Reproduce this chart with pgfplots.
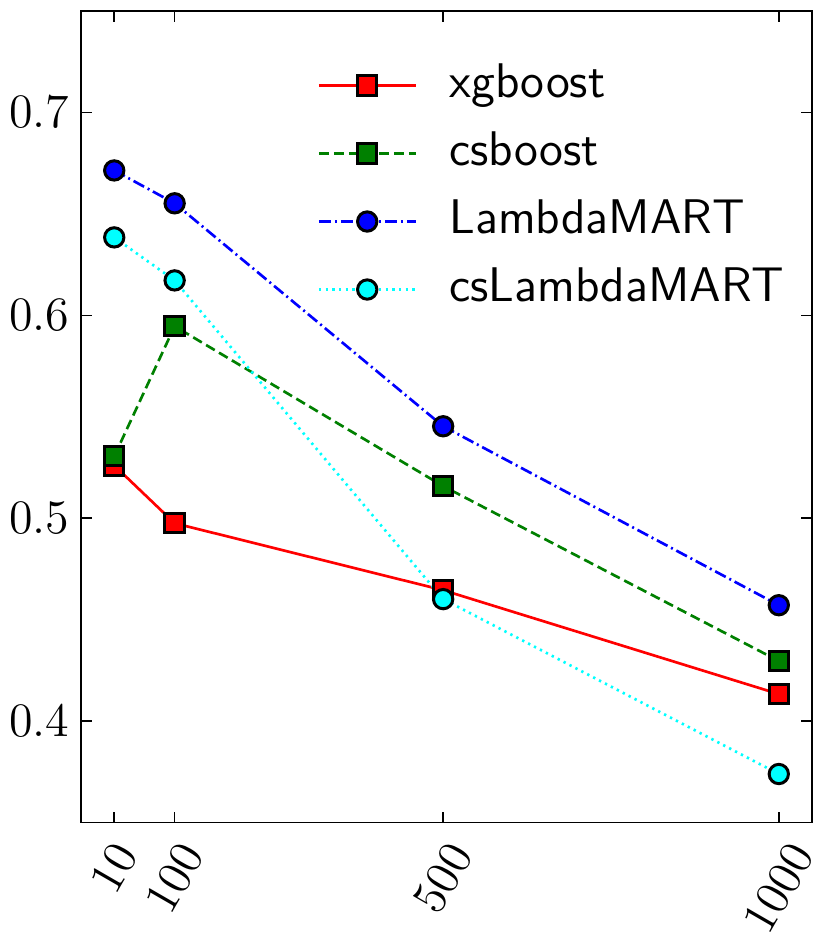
\documentclass[border=0pt]{standalone}
\usepackage{graphicx}
\usepackage{pgfplots}
\pgfplotsset{compat=1.18}
\definecolor{mplgreen}{rgb}{0,0.5,0}
\definecolor{mplcyan}{rgb}{0,1,1}
\definecolor{mplred}{rgb}{1,0,0}
\definecolor{mplblue}{rgb}{0,0,1}
\begin{document}
\begin{tikzpicture}
\begin{axis}[
  scale only axis, width=219.3pt, height=243.45pt,
  xmin=-39.5, xmax=1049.5, ymin=0.35, ymax=0.75,
  xtick={10,100,500,1000},
  xticklabels={\rotatebox{60}{$10$},\rotatebox{60}{$100$},\rotatebox{60}{$500$},\rotatebox{60}{$1000$}},
  xticklabel style={anchor=north, inner sep=0pt, yshift=-5pt},
  ytick={0.4,0.5,0.6,0.7},
  yticklabels={$0.4$,$0.5$,$0.6$,$0.7$},
  yticklabel style={anchor=east, inner sep=0pt, xshift=-3.3pt},
  tick align=inside, major tick length=3.2pt, minor tick num=0,
  xtick pos=both, ytick pos=both, xticklabel pos=bottom, yticklabel pos=left,
  axis line style={line width=0.45pt},
  every tick/.style={black, line width=0.45pt},
  tick label style={font=\fontsize{14.2}{17}\selectfont},
  legend style={draw=none, fill=none, at={(0.309,0.948)}, anchor=north west,
    font=\fontsize{14.6}{17}\selectfont\sffamily, row sep=5.4pt,
    nodes={inner sep=1pt, text height=10pt, text depth=3pt}},
  legend cell align=left,
  legend image code/.code={\draw[mark repeat=2,mark phase=2] plot coordinates {(0pt,0pt) (14.5pt,0pt) (29pt,0pt)}; \path (37.8pt,0pt);},
  every axis plot/.append style={line width=0.8pt, mark size=2.9pt},
]
\coordinate (bl) at (rel axis cs:0,0);
\coordinate (tr) at (rel axis cs:1,1);
\addplot[mplred, solid, mark=square*, mark options={solid, fill=mplred, draw=black, line width=0.9pt}]
  coordinates {(10,0.526) (100,0.4975) (500,0.4645) (1000,0.4133)};
\addlegendentry{xgboost}
\addplot[mplgreen, dash pattern=on 3pt off 1.5pt, mark=square*, mark options={solid, fill=mplgreen, draw=black, line width=0.9pt}]
  coordinates {(10,0.5305) (100,0.5946) (500,0.5158) (1000,0.4296)};
\addlegendentry{csboost}
\addplot[mplblue, dash pattern=on 3.6pt off 1.2pt on 0.6pt off 1.2pt, mark=*, mark options={solid, fill=mplblue, draw=black, line width=0.9pt}]
  coordinates {(10,0.6714) (100,0.6552) (500,0.5453) (1000,0.4571)};
\addlegendentry{LambdaMART}
\addplot[mplcyan, dash pattern=on 0.7pt off 1.3pt, mark=*, mark options={solid, fill=mplcyan, draw=black, line width=0.9pt}]
  coordinates {(10,0.6384) (100,0.6172) (500,0.4601) (1000,0.3739)};
\addlegendentry{csLambdaMART}
\end{axis}
\pgfresetboundingbox
\path ([shift={(-24.3pt,-37.35pt)}]bl) rectangle ([shift={(6pt,3.3pt)}]tr);
\end{tikzpicture}
\end{document}
